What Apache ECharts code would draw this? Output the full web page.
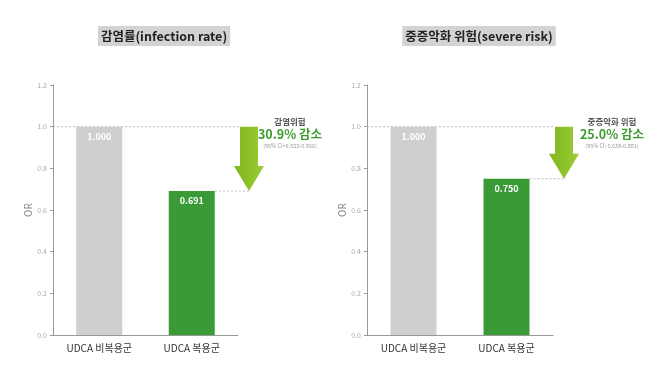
<!DOCTYPE html>
<html><head><meta charset="utf-8">
<script src="https://cdn.jsdelivr.net/npm/echarts@6/dist/echarts.min.js"></script>
<style>html,body{margin:0;padding:0;background:#fff}#c{width:667px;height:380px}</style>
</head><body><div id="c"></div>
<script>
const categories = ['UDCA 비복용군', 'UDCA 복용군'];
const chartTitles = ['감염률(infection rate)', '중증악화 위험(severe risk)'];
const infectionOR = [1.000, 0.691];
const severeOR = [1.000, 0.750];
const riskLabels = ['감염위험', '중증악화 위험'];
const reductionLabels = ['30.9% 감소', '25.0% 감소'];
const ciLabels = ['(95% CI=0.552-0.866)', '(95% CI: 0.638-0.881)'];
const yMin = 0, yMax = 1.2, yStep = 0.2;

const FONT = '"Noto Sans CJK KR", "Noto Sans", sans-serif';
const GRAY = '#d0cfcf', GREEN = '#3a9a36';
const grids = [{left: 53, width: 185}, {left: 367, width: 186}];
const titleCenters = [161, 476];
const textOffsets = [41, 48];
const seriesData = [infectionOR, severeOR];

const chart = echarts.init(document.getElementById('c'), null, {renderer: 'canvas'});
const option = {
  backgroundColor: '#fff',
  animation: false,
  textStyle: {fontFamily: FONT},
  title: chartTitles.map((t, i) => ({
    text: t, left: titleCenters[i], top: 26, textAlign: 'center',
    backgroundColor: '#d3d3d3', padding: [3, 3, 3, 3],
    textStyle: {fontFamily: FONT, fontSize: 12.5, fontWeight: 'bold', color: '#222', lineHeight: 14}
  })),
  grid: grids.map(g => ({left: g.left, width: g.width, top: 85, height: 250})),
  xAxis: grids.map((g, i) => ({
    type: 'category', gridIndex: i, data: categories,
    axisLine: {lineStyle: {color: '#999'}}, axisTick: {show: false},
    axisLabel: {color: '#333', fontSize: 10, margin: 8, fontFamily: FONT}
  })),
  yAxis: grids.map((g, i) => ({
    type: 'value', gridIndex: i, min: yMin, max: yMax, interval: yStep,
    name: 'OR', nameLocation: 'middle', nameGap: 15, nameRotate: 90,
    nameTextStyle: {color: '#888', fontSize: 10, fontFamily: FONT},
    axisLine: {show: true, lineStyle: {color: '#999'}},
    axisTick: {show: true, length: 3, lineStyle: {color: '#999'}},
    splitLine: {show: false},
    axisLabel: {color: '#aaa', fontSize: 7, margin: 6, formatter: v => v.toFixed(1), fontFamily: FONT}
  })),
  series: seriesData.map((d, i) => ({
    type: 'bar', xAxisIndex: i, yAxisIndex: i, barWidth: 46,
    data: d.map((v, j) => ({value: v, itemStyle: {color: j === 0 ? GRAY : GREEN}})),
    label: {show: true, position: 'insideTop', distance: 5, color: '#fff', fontSize: 9, fontWeight: 'bold',
      fontFamily: FONT, formatter: p => p.value.toFixed(3)}
  }))
};
chart.setOption(option);

const graphics = [];
seriesData.forEach((d, i) => {
  const p0 = chart.convertToPixel({seriesIndex: i}, [0, d[0]]);
  const p1 = chart.convertToPixel({seriesIndex: i}, [1, d[1]]);
  const catW = p1[0] - p0[0];
  const gridL = p0[0] - catW / 2, gridR = p1[0] + catW / 2;
  const ax = gridR + 11;
  const yTop = p0[1], yTip = p1[1];
  const sw = 9, hw = 15, hh = 25;
  const dash = {stroke: '#bbb', lineWidth: 1, lineDash: [2, 2]};
  graphics.push({type: 'line', shape: {x1: gridL, y1: yTop, x2: ax - sw, y2: yTop}, style: dash, z: 1});
  graphics.push({type: 'line', shape: {x1: p1[0] + 23, y1: yTip, x2: ax + 2, y2: yTip}, style: dash, z: 1});
  graphics.push({type: 'polygon', z: 5, shape: {points: [
    [ax - sw, yTop], [ax + sw, yTop], [ax + sw, yTip - hh], [ax + hw, yTip - hh],
    [ax, yTip], [ax - hw, yTip - hh], [ax - sw, yTip - hh]]},
    style: {fill: new echarts.graphic.LinearGradient(0, 0, 1, 0, [{offset: 0, color: '#7fb61e'}, {offset: 1, color: '#9ccc34'}])}});
  const tx = ax + textOffsets[i];
  graphics.push({type: 'text', z: 6, style: {x: tx, y: yTop - 5, text: riskLabels[i], align: 'center', verticalAlign: 'middle',
    fill: '#555', font: 'bold 8.5px ' + FONT}});
  graphics.push({type: 'text', z: 6, style: {x: tx, y: yTop + 8, text: reductionLabels[i], align: 'center', verticalAlign: 'middle',
    fill: '#3d9b30', font: 'bold 12.5px ' + FONT}});
  graphics.push({type: 'text', z: 6, style: {x: tx, y: yTop + 19, text: ciLabels[i], align: 'center', verticalAlign: 'middle',
    fill: '#999', font: '5.5px ' + FONT}});
});
chart.setOption({graphic: graphics});
</script></body></html>
